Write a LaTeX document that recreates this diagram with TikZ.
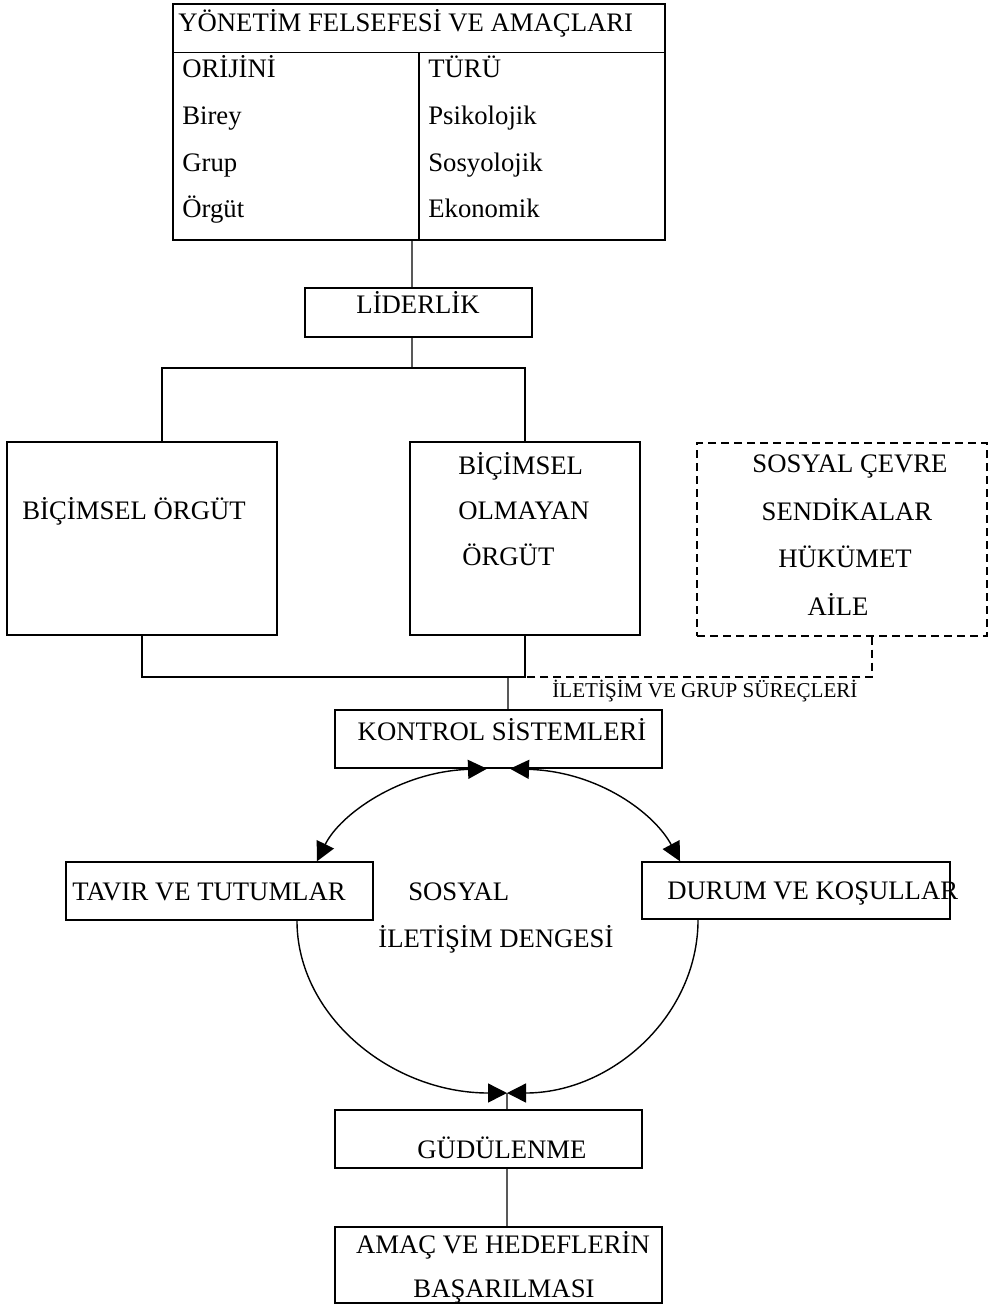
\documentclass[tikz,border=0pt]{standalone}
\usepackage{fontspec}
\setmainfont{Liberation Serif}
\usetikzlibrary{arrows.meta}
\tikzstyle{kutu} = [rectangle, draw=black, line width=0.8pt, inner sep=0pt]
\tikzstyle{kesikkutu} = [kutu, dash pattern=on 0.16cm off 0.1cm]
\tikzstyle{yazi} = [inner sep=0pt, anchor=base west]
\tikzstyle{ortayazi} = [inner sep=0pt, anchor=base]
\tikzstyle{cizgi} = [line width=0.8pt]
\tikzstyle{ok} = [line width=0.8pt, {Triangle[length=0.38cm,width=0.38cm]}-{Triangle[length=0.38cm,width=0.38cm]}]
\tikzstyle{tekok} = [line width=0.8pt, -{Triangle[length=0.38cm,width=0.38cm]}]

\begin{document}
\begin{tikzpicture}[x=0.02cm, y=-0.02cm, font=\fontsize{15.2pt}{18pt}\selectfont]
\useasboundingbox (0,0) rectangle (991,1307);
%kutular
\node (felsefe) [kutu, minimum width=9.84cm, minimum height=4.72cm] at (419,122) {};
\node (lider) [kutu, minimum width=4.54cm, minimum height=0.98cm] at (418.5,312.5) {};
\node (bicimsel) [kutu, minimum width=5.4cm, minimum height=3.86cm] at (142,538.5) {};
\node (olmayan) [kutu, minimum width=4.6cm, minimum height=3.86cm] at (525,538.5) {};
\node (cevre) [kesikkutu, minimum width=5.8cm, minimum height=3.86cm] at (842,539.5) {};
\node (kontrol) [kutu, minimum width=6.54cm, minimum height=1.16cm] at (498.5,739) {};
\node (tavir) [kutu, minimum width=6.14cm, minimum height=1.16cm] at (219.5,891) {};
\node (durum) [kutu, minimum width=6.16cm, minimum height=1.14cm] at (796,890.5) {};
\node (gudu) [kutu, minimum width=6.14cm, minimum height=1.16cm] at (488.5,1139) {};
\node (amac) [kutu, minimum width=6.54cm, minimum height=1.52cm] at (498.5,1265) {};

%tablo
\draw [cizgi] ([yshift=-0.98cm]felsefe.north west) -- ([yshift=-0.98cm]felsefe.north east);
\draw [cizgi] ([yshift=-0.98cm]felsefe.north) -- (felsefe.south);
\node (baslik) [yazi] at (178,32) {YÖNETİM FELSEFESİ VE AMAÇLARI};
\node (orijini) [yazi] at (182,78) {ORİJİNİ};
\node (birey) [yazi] at (182,125) {Birey};
\node (grup) [yazi] at (182,172) {Grup};
\node (orgut) [yazi] at (182,218) {Örgüt};
\node (turu) [yazi] at (428,78) {TÜRÜ};
\node (psiko) [yazi] at (428,125) {Psikolojik};
\node (sosyo) [yazi] at (428,172) {Sosyolojik};
\node (ekonomik) [yazi] at (428,218) {Ekonomik};

%yazilar
\node (liderlik) [ortayazi] at (418,314) {LİDERLİK};
\node (bicimselyazi) [yazi] at (22,519) {BİÇİMSEL ÖRGÜT};
\node (olm1) [yazi] at (458,474) {BİÇİMSEL};
\node (olm2) [yazi] at (458,519) {OLMAYAN};
\node (olm3) [yazi] at (462,565) {ÖRGÜT};
\node (cevre1) [ortayazi] at (850,472) {SOSYAL ÇEVRE};
\node (cevre2) [ortayazi] at (847,520) {SENDİKALAR};
\node (cevre3) [ortayazi] at (845,567) {HÜKÜMET};
\node (cevre4) [ortayazi] at (838,615) {AİLE};
\node (surec) [yazi, font=\fontsize{12pt}{15pt}\selectfont] at (552,697) {İLETİŞİM VE GRUP SÜREÇLERİ};
\node (kontrolyazi) [ortayazi] at (502,740) {KONTROL SİSTEMLERİ};
\node (taviryazi) [yazi] at (72,900) {TAVIR VE TUTUMLAR};
\node (durumyazi) [yazi] at (667,899) {DURUM VE KOŞULLAR};
\node (sosyal) [yazi] at (408,900) {SOSYAL};
\node (denge) [yazi] at (378,947) {İLETİŞİM DENGESİ};
\node (guduyazi) [ortayazi] at (502,1158) {GÜDÜLENME};
\node (amac1) [ortayazi] at (503,1253) {AMAÇ VE HEDEFLERİN};
\node (amac2) [ortayazi] at (504,1297) {BAŞARILMASI};

%baglantilar
\coordinate (dal) at (412,368);
\coordinate (kavsak) at (525,677);
\coordinate (kontrolgiris) at (508,677);
\coordinate (bulusma) at (507,1093);
\draw [cizgi] ([xshift=-0.14cm]felsefe.south) -- ([xshift=-0.13cm]lider.north);
\draw [cizgi] ([xshift=-0.13cm]lider.south) -- (dal);
\draw [cizgi] ([xshift=0.4cm]bicimsel.north) |- (dal) -| (olmayan.north);
\draw [cizgi] (bicimsel.south) |- (kavsak) -- (olmayan.south);
\draw [cizgi, dash pattern=on 0.16cm off 0.1cm] ([xshift=0.6cm]cevre.south) |- (kavsak);
\draw [cizgi] (kontrolgiris) -- ([xshift=0.19cm]kontrol.north);
%denge cemberi
\draw [ok] ([xshift=-0.23cm]kontrol.south) .. controls +(-87,3) and +(23,-47) .. ([xshift=1.95cm]tavir.north);
\draw [ok] ([xshift=0.23cm]kontrol.south) .. controls +(90,3) and +(-25,-47) .. ([xshift=-2.32cm]durum.north);
\draw [tekok] ([xshift=1.55cm]tavir.south) .. controls +(0,95) and +(-116,0) .. (bulusma);
\draw [tekok] ([xshift=-1.96cm]durum.south) .. controls +(0,96) and +(105,0) .. (bulusma);
\draw [cizgi] (bulusma) -- ([xshift=0.37cm]gudu.north);
\draw [cizgi] ([xshift=0.37cm]gudu.south) -- ([xshift=0.17cm]amac.north);
\end{tikzpicture}
\end{document}
